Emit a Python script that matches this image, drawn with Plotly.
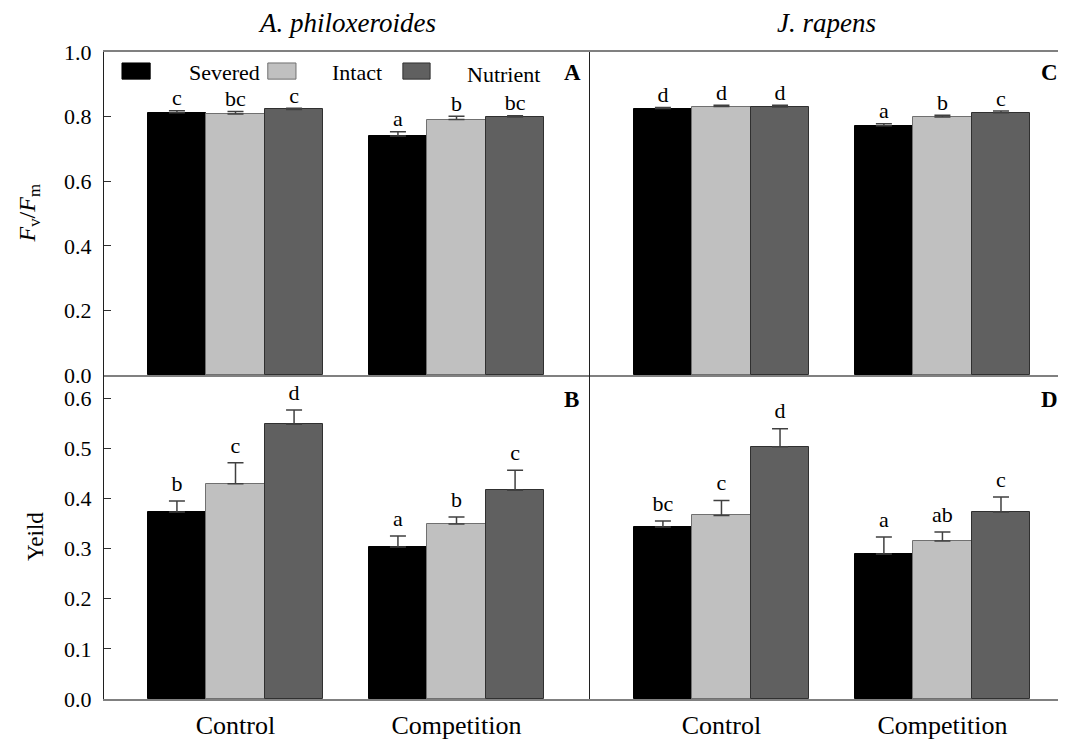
import plotly.graph_objects as go
from plotly.subplots import make_subplots

groups = ["Control", "Competition"]
treatments = ["Severed", "Intact", "Nutrient"]
bar_colors = ["#000000", "#c0c0c0", "#606060"]
edge_colors = ["#000000", "#707070", "#303030"]

# Panel A: Fv/Fm, A. philoxeroides  (rows: Severed, Intact, Nutrient; cols: Control, Competition)
fvfm_ap_mean = [[0.812, 0.740], [0.808, 0.791], [0.822, 0.799]]
fvfm_ap_err = [[0.006, 0.013], [0.008, 0.010], [0.004, 0.004]]
fvfm_ap_letters = [["c", "a"], ["bc", "b"], ["c", "bc"]]

# Panel C: Fv/Fm, J. rapens
fvfm_jr_mean = [[0.825, 0.772], [0.831, 0.799], [0.830, 0.812]]
fvfm_jr_err = [[0.003, 0.006], [0.004, 0.005], [0.005, 0.005]]
fvfm_jr_letters = [["d", "a"], ["d", "b"], ["d", "c"]]

# Panel B: Yield, A. philoxeroides
yield_ap_mean = [[0.373, 0.303], [0.429, 0.349], [0.548, 0.416]]
yield_ap_err = [[0.022, 0.022], [0.042, 0.014], [0.028, 0.040]]
yield_ap_letters = [["b", "a"], ["c", "b"], ["d", "c"]]

# Panel D: Yield, J. rapens
yield_jr_mean = [[0.343, 0.289], [0.366, 0.315], [0.503, 0.373]]
yield_jr_err = [[0.012, 0.034], [0.030, 0.018], [0.036, 0.030]]
yield_jr_letters = [["bc", "a"], ["c", "ab"], ["d", "c"]]

panel_labels = ["A", "C", "B", "D"]
species = ["A. philoxeroides", "J. rapens"]

FONT = "Liberation Serif"
BW = 0.265

fig = make_subplots(rows=2, cols=2, horizontal_spacing=0, vertical_spacing=0)

panels = [
    (1, 1, fvfm_ap_mean, fvfm_ap_err, fvfm_ap_letters),
    (1, 2, fvfm_jr_mean, fvfm_jr_err, fvfm_jr_letters),
    (2, 1, yield_ap_mean, yield_ap_err, yield_ap_letters),
    (2, 2, yield_jr_mean, yield_jr_err, yield_jr_letters),
]

for (r, c, mean, err, letters) in panels:
    for t, name in enumerate(treatments):
        xs = [g + (t - 1) * BW for g in range(len(groups))]
        fig.add_trace(go.Bar(
            x=xs, y=mean[t], width=BW, name=name, showlegend=False,
            marker=dict(color=bar_colors[t], line=dict(color=edge_colors[t], width=1)),
            error_y=dict(type="data", array=err[t], arrayminus=[0] * len(err[t]),
                         symmetric=False, color="#404040", thickness=1.5, width=8),
        ), row=r, col=c)
        fig.add_trace(go.Scatter(
            x=xs, y=[m + e for m, e in zip(mean[t], err[t])],
            mode=("text" if r == 1 else "markers+text"),
            marker=dict(size=0, opacity=0), text=letters[t], textposition="top center",
            showlegend=False, textfont=dict(family=FONT, size=22, color="black"), hoverinfo="skip",
        ), row=r, col=c)

# figure is 1050x733 (page body adds an 8px margin); plot area spans 954 x 647 px
xd_left = [0, 486 / 954]
xd_right = [486 / 954, 1]
yd_top = [324 / 647, 1]
yd_bot = [0, 324 / 647]

xr_left = [-0.595, 1.604]
xr_right = [-0.595, 1.523]

common_x = dict(showline=True, linecolor="#808080", linewidth=1.5, ticks="", automargin=False,
                tickvals=[0, 1], ticktext=groups, showgrid=False, zeroline=False,
                tickfont=dict(family=FONT, size=26, color="black"), ticklabelstandoff=2)

fig.update_layout(
    xaxis=dict(domain=xd_left, range=xr_left, mirror=True, showticklabels=False, **common_x),
    xaxis2=dict(domain=xd_right, range=xr_right, mirror=True, showticklabels=False, **common_x),
    xaxis3=dict(domain=xd_left, range=xr_left, **common_x),
    xaxis4=dict(domain=xd_right, range=xr_right, **common_x),
)

common_y = dict(showline=True, linecolor="#202020", linewidth=1.3, showgrid=False, zeroline=False,
                automargin=False, tickfont=dict(family=FONT, size=22, color="black"))
fig.update_layout(
    yaxis=dict(domain=yd_top, range=[0, 1.0], dtick=0.2, tickformat=".1f", ticks="inside",
               ticklen=7, tickcolor="#303030", ticklabelstandoff=7, **common_y),
    yaxis2=dict(domain=yd_top, range=[0, 1.0], ticks="", showticklabels=False, **common_y),
    yaxis3=dict(domain=yd_bot, range=[0, 0.646], dtick=0.1, tickformat=".1f", ticks="inside",
                ticklen=7, tickcolor="#303030", ticklabelstandoff=7, **common_y),
    yaxis4=dict(domain=yd_bot, range=[0, 0.646], ticks="", showticklabels=False, **common_y),
)

ann = []
# species titles
for i, sp in enumerate(species):
    ann.append(dict(text=f"<i>{sp}</i>", xref=("x domain" if i == 0 else "x2 domain"), x=(0.5 if i == 0 else 0.505),
                    xanchor="center", yref="paper", y=1, yanchor="bottom", yshift=12, showarrow=False,
                    font=dict(family=FONT, size=27, color="black")))
# panel labels
axref = [("x domain", "y domain"), ("x2 domain", "y2 domain"), ("x3 domain", "y3 domain"), ("x4 domain", "y4 domain")]
label_pos = [(0.986, 0.938), (1.004, 0.938), (0.982, 0.923), (1.004, 0.923)]
for lab, (xr_, yr_), (px, py) in zip(panel_labels, axref, label_pos):
    ann.append(dict(text=f"<b>{lab}</b>", xref=xr_, yref=yr_, x=px, y=py, xanchor="right",
                    yanchor="middle", showarrow=False, font=dict(family=FONT, size=23, color="black")))
# y titles
ann.append(dict(text="<i>F</i><sub>v</sub>/<i>F</i><sub>m</sub>", xref="paper", yref="y domain",
                x=(28 - 104) / 954, y=0.5, xanchor="center", yanchor="middle", textangle=-90,
                showarrow=False, font=dict(family=FONT, size=24, color="black")))
ann.append(dict(text="Yeild", xref="paper", yref="y3 domain",
                x=(35 - 104) / 954, y=0.5, xanchor="center", yanchor="middle", textangle=-90,
                showarrow=False, font=dict(family=FONT, size=23, color="black")))

# legend (custom, drawn in panel A)
legend_box_x = [(0.037, 0.095), (0.337, 0.395), (0.615, 0.671)]
legend_text_pos = [(0.247, 0.938), (0.521, 0.938), (0.823, 0.929)]
shapes = []
for t, name in enumerate(treatments):
    x0, x1 = legend_box_x[t]
    shapes.append(dict(type="rect", xref="x domain", yref="y domain", x0=x0, x1=x1, y0=0.916, y1=0.966,
                       fillcolor=bar_colors[t], line=dict(color=edge_colors[t], width=1)))
    tx, ty = legend_text_pos[t]
    ann.append(dict(text=name, xref="x domain", yref="y domain", x=tx, y=ty, xanchor="center",
                    yanchor="middle", showarrow=False, font=dict(family=FONT, size=22, color="black")))

fig.update_layout(
    annotations=ann, shapes=shapes,
    width=1050, height=733, margin=dict(l=96, r=0, t=44, b=42),
    plot_bgcolor="white", paper_bgcolor="white", bargap=0, showlegend=False,
    font=dict(family=FONT, color="black"),
)

fig.write_html("out.html")
